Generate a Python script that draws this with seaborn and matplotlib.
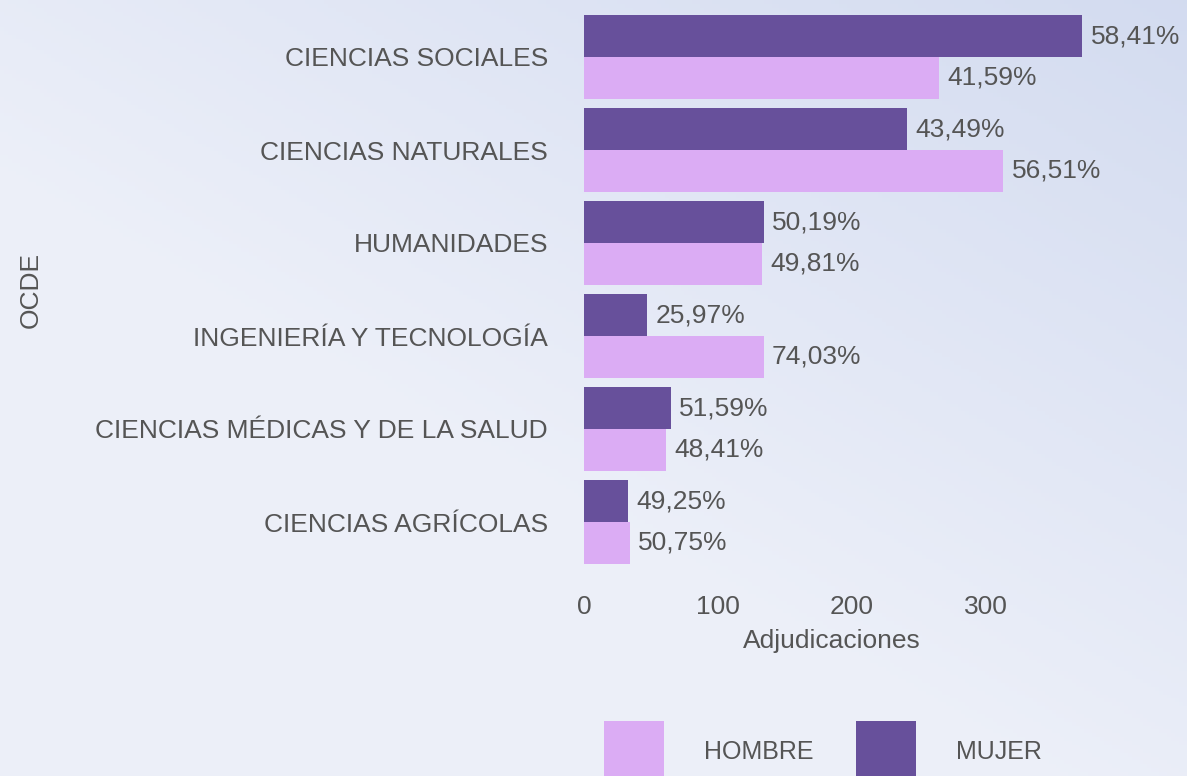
import numpy as np
import pandas as pd
import seaborn as sns
import matplotlib.pyplot as plt
from matplotlib.patches import Patch

# datos
areas = ["CIENCIAS SOCIALES", "CIENCIAS NATURALES", "HUMANIDADES",
         "INGENIERÍA Y TECNOLOGÍA", "CIENCIAS MÉDICAS Y DE LA SALUD",
         "CIENCIAS AGRÍCOLAS"]
mujer = [372, 241, 134, 47, 65, 33]
hombre = [265, 313, 133, 134, 61, 34]
pct_mujer = ["58,41%", "43,49%", "50,19%", "25,97%", "51,59%", "49,25%"]
pct_hombre = ["41,59%", "56,51%", "49,81%", "74,03%", "48,41%", "50,75%"]

df = pd.DataFrame({
    "area": areas * 2,
    "sexo": ["MUJER"] * len(areas) + ["HOMBRE"] * len(areas),
    "n": mujer + hombre,
})

sns.set_theme(style="white")
plt.rcParams["font.family"] = ["Liberation Sans", "DejaVu Sans"]

c_mujer = "#67509b"
c_hombre = "#dbacf4"
gris = "#555555"
fs = 19

W, H = 1187, 776
fig = plt.figure(figsize=(W / 100, H / 100), dpi=100)

# fondo con degradado suave
bg = fig.add_axes([0, 0, 1, 1], zorder=-10)
yy, xx = np.mgrid[0:1:200j, 0:1:300j]
t = np.clip(0.7 * xx + 0.8 * (1 - yy) - 0.6, 0, 1)
c1 = np.array([0.929, 0.941, 0.976])
c2 = np.array([0.816, 0.851, 0.937])
img = c1 + (c2 - c1) * t[..., None]
bg.imshow(img, aspect="auto", extent=[0, 1, 0, 1], origin="upper")
bg.axis("off")

ax = fig.add_axes([584 / W, 1 - 568.5 / H, 536 / W, 558 / H])
ax.patch.set_alpha(0)
sns.barplot(data=df, y="area", x="n", hue="sexo", hue_order=["MUJER", "HOMBRE"],
            palette=[c_mujer, c_hombre], saturation=1, width=0.9,
            orient="h", ax=ax, legend=False, linewidth=0)

ax.bar_label(ax.containers[0], labels=pct_mujer, padding=6, fontsize=fs, color=gris)
ax.bar_label(ax.containers[1], labels=pct_hombre, padding=6, fontsize=fs, color=gris)

ax.set_xlim(0, 400)
ax.set_xticks([0, 100, 200, 300])
ax.tick_params(axis="x", length=0, pad=19, labelsize=fs, labelcolor=gris)
ax.tick_params(axis="y", length=0, pad=26, labelsize=fs, labelcolor=gris)
sns.despine(ax=ax, left=True, bottom=True)

ax.set_xlabel("Adjudicaciones", fontsize=fs, color=gris)
ax.xaxis.set_label_coords(0.463, -0.108)
ax.set_ylabel("OCDE", fontsize=fs, color=gris)
ax.yaxis.set_label_coords(-1.01, 0.5)

handles = [Patch(facecolor=c_hombre, edgecolor="none", label="HOMBRE"),
           Patch(facecolor=c_mujer, edgecolor="none", label="MUJER")]
fig.legend(handles=handles, loc="upper left", bbox_to_anchor=(604 / W, 1 - 721 / H),
           ncol=2, frameon=False, fontsize=18, labelcolor=gris,
           handlelength=2.4, handleheight=3.4, handletextpad=1.6,
           columnspacing=1.72, borderpad=0, borderaxespad=0)

fig.savefig("out.png", dpi=100)
